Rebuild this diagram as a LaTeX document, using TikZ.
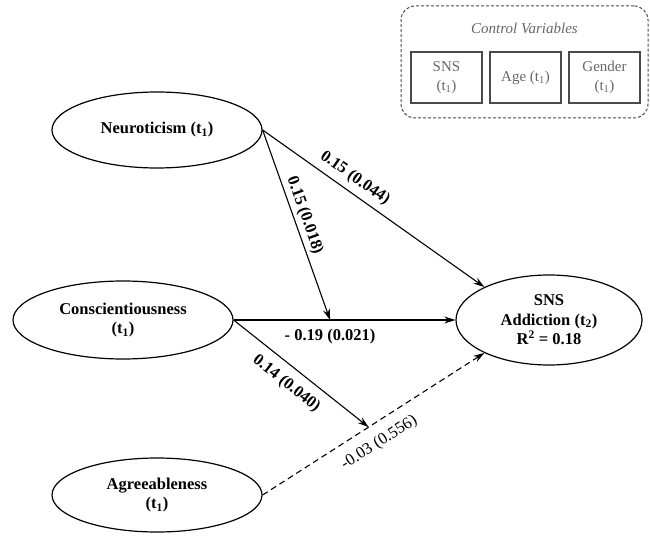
\documentclass[tikz,border=0pt]{standalone}
\usepackage{fontspec}
\setmainfont{Liberation Serif}
\usetikzlibrary{shapes.geometric,arrows.meta,calc}
\definecolor{boxline}{HTML}{4A4A4A}
\definecolor{boxtext}{HTML}{666666}
\begin{document}
\begin{tikzpicture}[x=1pt,y=1pt,
  latent/.style={ellipse,draw,line width=1.2pt,inner sep=0pt,align=center,
    font=\fontsize{16.5}{19.5}\selectfont\bfseries},
  arr/.style={line width=1.1pt,-{Stealth[length=11pt,width=7pt]}},
  coef/.style={font=\fontsize{16.5}{19.5}\selectfont\bfseries,sloped,inner sep=2pt},
  coefns/.style={font=\fontsize{16.5}{19.5}\selectfont,sloped,inner sep=2pt},
  ctrl/.style={draw=boxline,line width=1.1pt,minimum width=71pt,minimum height=51pt,
    inner sep=0pt,align=center,text=boxtext,font=\fontsize{15}{19}\selectfont},
  ctrlframe/.style={draw=boxline,line width=1pt,dash pattern=on 3pt off 2pt,
    rounded corners=14pt,minimum width=247pt,minimum height=112pt,inner sep=0pt}
]
\useasboundingbox (0,0) rectangle (650,536);

% control variables
\node[ctrlframe] (frame) at (524.5,474) {};
\node[text=boxtext,font=\fontsize{15}{18}\selectfont\itshape] (ctitle) at (524.5,508) {Control Variables};
\node[ctrl] (c1) at (446.5,458.5) {SNS\\(t\textsubscript{1})};
\node[ctrl] (c2) at (525.5,458.5) {Age (t\textsubscript{1})};
\node[ctrl] (c3) at (604.5,458.5) {Gender\\(t\textsubscript{1})};

% latent variables
\node[latent,minimum width=210pt,minimum height=76pt] (neuro) at (157,406) {Neuroticism (t\textsubscript{1})};
\node[latent,minimum width=220pt,minimum height=78pt] (consc) at (123,216) {Conscientiousness\\(t\textsubscript{1})};
\node[latent,minimum width=210pt,minimum height=74pt] (agree) at (157,41) {Agreeableness\\(t\textsubscript{1})};
\node[latent,minimum width=186pt,minimum height=90pt] (sns) at (549,216) {SNS\\Addiction (t\textsubscript{2})\\R\textsuperscript{2} = 0.18};

% helper points
\coordinate (m1) at ($(consc.east)!0.435!(sns.west)$);
\coordinate (m2) at ($(agree.east)!0.478!(sns.207.6)$);

% paths
\draw[arr] (neuro.east) -- node[coef,above=4pt,pos=0.38] {0.15 (0.044)} (sns.153.8);
\draw[arr] (neuro.east) -- node[coef,above=1pt,pos=0.47] {0.15 (0.018)} (m1);
\draw[arr] (consc.east) -- (sns.west);
\node[font=\fontsize{16.5}{19.5}\selectfont\bfseries,below=6pt] (l19) at (m1) {- 0.19 (0.021)};
\draw[arr] (consc.east) -- node[coef,below=7pt,pos=0.47] {0.14 (0.040)} (m2);
\draw[arr,dash pattern=on 6pt off 4pt] (agree.east) -- node[coefns,below=9pt,pos=0.48] {-0.03 (0.556)} (sns.207.6);
\end{tikzpicture}
\end{document}
